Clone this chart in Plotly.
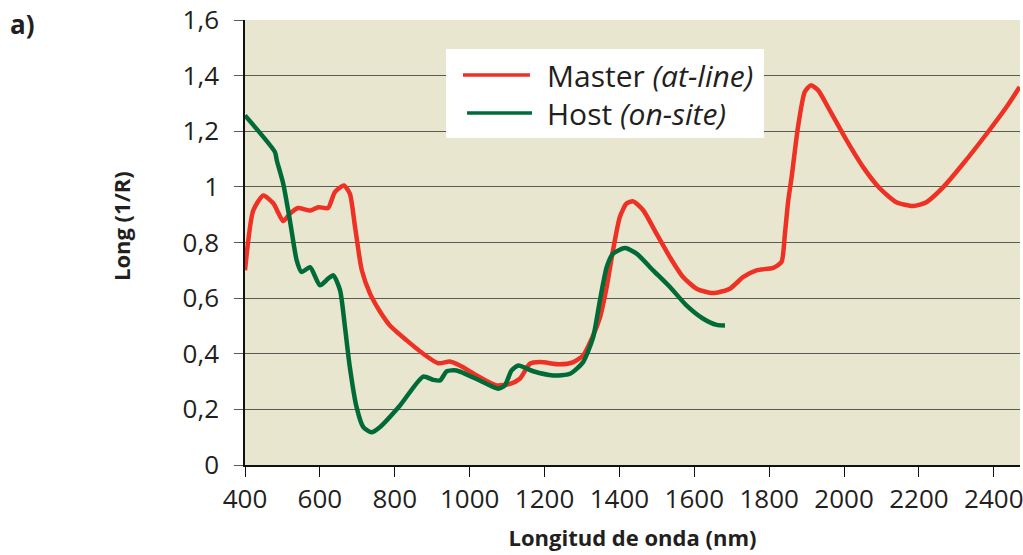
import plotly.graph_objects as go

# ---- data ----
master_x = [400, 422, 449, 476, 502, 520, 542, 574, 596, 622, 640, 664, 680, 694, 712, 734,
            760, 787, 832, 876, 916, 947, 974, 1019, 1072, 1108, 1134, 1161, 1188, 1241, 1277,
            1303, 1330, 1348, 1366, 1383, 1401, 1419, 1437, 1464, 1499, 1535, 1570, 1606, 1650,
            1695, 1731, 1766, 1811, 1833, 1842, 1851, 1860, 1877, 1895, 1911, 1931, 1962, 2007,
            2051, 2096, 2140, 2185, 2220, 2265, 2318, 2381, 2434, 2469]
master_y = [0.700, 0.915, 0.969, 0.940, 0.877, 0.904, 0.924, 0.915, 0.927, 0.924, 0.981, 1.005,
            0.976, 0.855, 0.700, 0.616, 0.553, 0.502, 0.448, 0.400, 0.366, 0.372, 0.358, 0.322,
            0.286, 0.292, 0.310, 0.364, 0.370, 0.362, 0.370, 0.394, 0.466, 0.530, 0.640, 0.772,
            0.891, 0.940, 0.948, 0.915, 0.832, 0.747, 0.676, 0.634, 0.618, 0.634, 0.676, 0.700,
            0.709, 0.730, 0.830, 0.951, 1.035, 1.215, 1.341, 1.365, 1.347, 1.275, 1.167, 1.071,
            0.994, 0.945, 0.931, 0.945, 0.999, 1.083, 1.191, 1.287, 1.359]

host_x = [400, 480, 485, 502, 520, 538, 551, 574, 600, 622, 636, 654, 667, 680, 698, 716, 738,
          760, 814, 876, 903, 921, 939, 965, 1027, 1076, 1094, 1112, 1130, 1170, 1223, 1268,
          1303, 1330, 1348, 1366, 1383, 1415, 1446, 1490, 1535, 1579, 1624, 1660, 1682]
host_y = [1.257, 1.125, 1.095, 1.012, 0.879, 0.736, 0.694, 0.711, 0.646, 0.670, 0.682, 0.628,
          0.496, 0.352, 0.208, 0.136, 0.118, 0.136, 0.214, 0.318, 0.306, 0.304, 0.337, 0.340,
          0.304, 0.274, 0.286, 0.340, 0.358, 0.337, 0.322, 0.328, 0.370, 0.460, 0.592, 0.711,
          0.760, 0.780, 0.760, 0.700, 0.640, 0.574, 0.526, 0.504, 0.502]

x_ticks = [400, 600, 800, 1000, 1200, 1400, 1600, 1800, 2000, 2200, 2400]
y_ticks = [0, 0.2, 0.4, 0.6, 0.8, 1.0, 1.2, 1.4, 1.6]
y_ticktext = ["0", "0,2", "0,4", "0,6", "0,8", "1", "1,2", "1,4", "1,6"]

series_names = ["Master <i>(at-line)</i>", "Host <i>(on-site)</i>"]
RED = "#EE3124"
GREEN = "#006B38"
FONT = "Open Sans"
TXT = "#231F20"

fig = go.Figure()
fig.add_trace(go.Scatter(x=master_x, y=master_y, mode="lines", name=series_names[0],
                         line=dict(color=RED, width=4.5, shape="spline", smoothing=0.6)))
fig.add_trace(go.Scatter(x=host_x, y=host_y, mode="lines", name=series_names[1],
                         line=dict(color=GREEN, width=4.5, shape="spline", smoothing=0.6)))

fig.update_layout(
    width=1023, height=555,
    margin=dict(l=245, r=3, t=20, b=90),
    paper_bgcolor="white",
    plot_bgcolor="#E8E6CE",
    showlegend=False,
    font=dict(family=FONT, color=TXT),
)

fig.update_xaxes(
    range=[400, 2470], tickvals=x_ticks, ticktext=[str(v) for v in x_ticks],
    showgrid=False, zeroline=False,
    showline=True, linecolor="#111", linewidth=1.5,
    ticks="outside", ticklen=10, tickwidth=1.2, tickcolor="#111",
    tickfont=dict(family=FONT, size=26, color=TXT),
    ticklabeloverflow="allow",
    title=dict(text="<b>Longitud de onda (nm)</b>", font=dict(family=FONT, size=22, color=TXT),
               standoff=16),
    automargin=False,
)
fig.update_yaxes(
    range=[0, 1.6], tickvals=y_ticks, ticktext=y_ticktext,
    showgrid=True, gridcolor="#5a5a55", gridwidth=1.3, zeroline=False,
    showline=True, linecolor="#111", linewidth=1.5,
    ticks="outside", ticklen=9, tickwidth=1.3, tickcolor="#5a5a55",
    tickfont=dict(family=FONT, size=26, color=TXT),
    ticklabelstandoff=10,
    automargin=False,
)

# y-axis title
fig.add_annotation(xref="paper", yref="paper", x=-0.16, y=0.537, xanchor="center", yanchor="middle",
                   text="<b>Long (1/R)</b>", textangle=-90, showarrow=False,
                   font=dict(family=FONT, size=22, color=TXT))

# custom legend (box, line samples, labels)
fig.add_shape(type="rect", xref="paper", yref="paper", x0=0.2594, x1=0.6697, y0=0.7348, y1=0.9348,
              fillcolor="white", line=dict(width=0), layer="above")
fig.add_shape(type="line", xref="paper", yref="paper", x0=0.2813, x1=0.3677, y0=0.8764, y1=0.8764,
              line=dict(color=RED, width=3.5), layer="above")
fig.add_shape(type="line", xref="paper", yref="paper", x0=0.2865, x1=0.3703, y0=0.7910, y1=0.7910,
              line=dict(color=GREEN, width=3.5), layer="above")
fig.add_annotation(xref="paper", yref="paper", x=0.3871, y=0.8764, xanchor="left", yanchor="middle",
                   text=series_names[0], showarrow=False, font=dict(family=FONT, size=30, color=TXT))
fig.add_annotation(xref="paper", yref="paper", x=0.3871, y=0.7910, xanchor="left", yanchor="middle",
                   text=series_names[1], showarrow=False, font=dict(family=FONT, size=30, color=TXT))

# panel label
fig.add_annotation(xref="paper", yref="paper", x=-0.306, y=1.035, xanchor="left", yanchor="top",
                   text="<b>a)</b>", showarrow=False, font=dict(family=FONT, size=26, color=TXT))

fig.write_html("out.html", config={"displayModeBar": False},
               post_script="document.body.style.margin='0';")
